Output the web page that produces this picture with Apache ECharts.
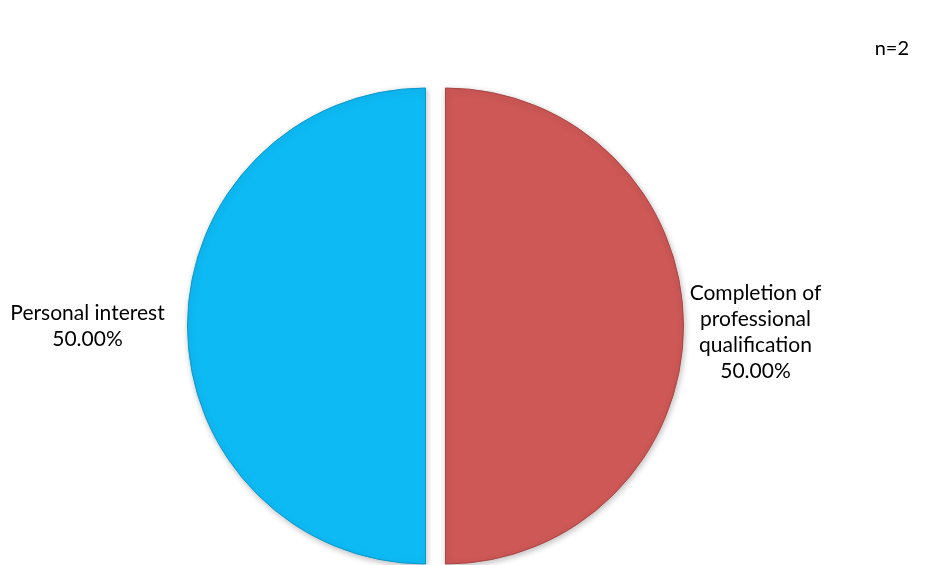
<!DOCTYPE html>
<html>
<head>
<meta charset="utf-8">
<script src="https://cdn.jsdelivr.net/npm/echarts@6/dist/echarts.min.js"></script>
<style>html,body{margin:0;padding:0;background:#fff}#c{width:930px;height:565px}</style>
</head>
<body>
<div id="c"></div>
<script>
const categories = ['Completion of\nprofessional\nqualification', 'Personal interest'];
const values = [1, 1];
const colors = ['#CD5856', '#0EBAF4'];
const borderColors = ['#A94543', '#0B97CA'];
const sampleNote = 'n=2';

const chart = echarts.init(document.getElementById('c'));
const FONT = 'Lato';
const boxWidths = [136, 160];
const lineLens = [4, 20];
const labelPads = [[12, 0, 0, 0], [0, 0, 0, 0]];

chart.setOption({
  animation: false,
  title: {
    text: sampleNote,
    right: 16,
    top: 34,
    textStyle: { fontFamily: FONT, fontSize: 20, fontWeight: 'normal', color: '#000' }
  },
  series: [{
    type: 'pie',
    center: [435.5, 326],
    radius: 238,
    startAngle: 90,
    clockwise: true,
    selectedMode: 'multiple',
    selectedOffset: 10,
    silent: true,
    data: categories.map((name, i) => ({
      name: name,
      value: values[i],
      selected: true,
      itemStyle: {
        color: colors[i],
        borderColor: borderColors[i],
        borderWidth: 1,
        shadowBlur: 6,
        shadowColor: 'rgba(0,0,0,0.25)',
        shadowOffsetX: 1,
        shadowOffsetY: 2
      },
      labelLine: { show: false, length: lineLens[i], length2: 0 },
      label: {
        padding: labelPads[i],
        rich: { a: { width: boxWidths[i], align: 'center', fontFamily: FONT, fontSize: 21, lineHeight: 26, color: '#000' } }
      }
    })),
    label: {
      show: true,
      position: 'outside',
      distanceToLabelLine: 0,
      formatter: p => {
        const lines = (p.name + '\n' + p.percent.toFixed(2) + '%').split('\n');
        return lines.map(l => '{a|' + l + '}').join('\n');
      }
    },
    emphasis: { disabled: true }
  }]
});
</script>
</body>
</html>
